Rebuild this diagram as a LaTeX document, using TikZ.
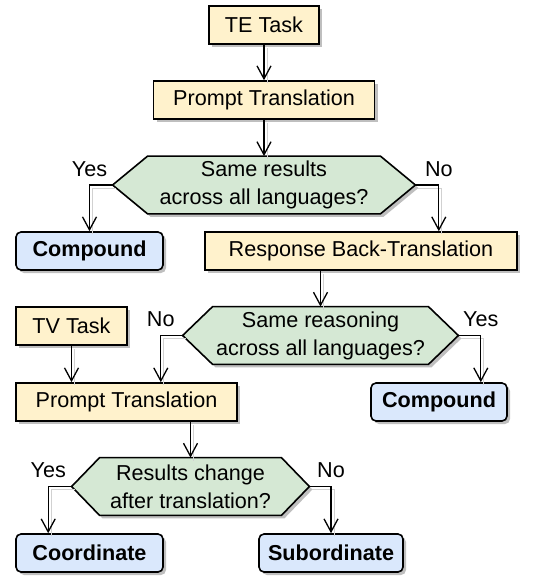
\documentclass[tikz,border=0pt]{standalone}
\usepackage{fontspec}
\setmainfont{Liberation Sans}
\usetikzlibrary{positioning,calc,shadows,arrows.meta,backgrounds}

\definecolor{stepfill}{HTML}{FFF2CC}
\definecolor{askfill}{HTML}{D5E8D4}
\definecolor{endfill}{HTML}{DAE8FC}

\tikzset{
  shade box/.style={drop shadow={shadow xshift=1.5pt,shadow yshift=-1.5pt,fill=black!25,opacity=1}},
  stepbox/.style={draw,line width=0.8pt,fill=stepfill,shade box,minimum height=19pt,inner sep=0pt},
  endbox/.style={stepbox,fill=endfill,rounded corners=2.5pt,font=\fontsize{10.8pt}{14pt}\selectfont\bfseries},
  askbox/.style={align=center,inner sep=0pt,minimum height=28.5pt},
  yesno/.style={pos=0.5,above,inner sep=4pt,text depth=0pt},
  arr/.style={line width=0.65pt,-{Straight Barb[length=6.5pt,width=7pt]},
    preaction={-,draw=black!18,transform canvas={shift={(1.5pt,-1.5pt)}}}},
}

\newcommand\hexpath[2]{(#1.west) -- ($(#1.north west)+(#2,0)$) -- ($(#1.north east)+(-#2,0)$)
  -- (#1.east) -- ($(#1.south east)+(-#2,0)$) -- ($(#1.south west)+(#2,0)$) -- cycle}

\begin{document}
\begin{tikzpicture}[x=0.5pt,y=-0.5pt,font=\fontsize{10.8pt}{14pt}\selectfont]
  \useasboundingbox (0,0) rectangle (537,577);
  \node[stepbox,minimum width=55pt] at (264,25) (te) {TE Task};
  \node[stepbox,minimum width=110.5pt] at (264,100) (pt1) {Prompt Translation};
  \node[askbox,minimum width=151pt] at (264,185) (d1) {Same results\\across all languages?};
  \node[endbox,minimum width=73.5pt] at (89.5,251) (cmp1) {Compound};
  \node[stepbox,minimum width=156pt] at (361,251) (rbt) {Response Back-Translation};
  \node[askbox,minimum width=137.5pt] at (320.5,335.5) (d2) {Same reasoning\\across all languages?};
  \node[stepbox,minimum width=55.5pt] at (71.5,326) (tv) {TV Task};
  \node[stepbox,minimum width=110.5pt] at (126.5,402) (pt2) {Prompt Translation};
  \node[endbox,minimum width=68pt] at (439,402) (cmp2) {Compound};
  \node[askbox,minimum width=118.5pt] at (190.5,486.5) (d3) {Results change\\after translation?};
  \node[endbox,minimum width=73.5pt] at (89.5,553) (coord) {Coordinate};
  \node[endbox,minimum width=72pt] at (331,553) (sub) {Subordinate};

  \begin{scope}[on background layer]
    \foreach \d/\c in {d1/35,d2/30,d3/28}{
      \fill[black!25,transform canvas={shift={(1.5pt,-1.5pt)}}] \hexpath{\d}{\c};
      \draw[line width=0.8pt,fill=askfill] \hexpath{\d}{\c};
    }
  \end{scope}

  \draw[arr] (te) -- (pt1);
  \draw[arr] (pt1) -- (d1);
  \draw[arr] (d1.west) -| node[yesno] {Yes} (cmp1);
  \draw[arr] (d1.east) -| node[yesno] {No} ($(rbt.north east)+(-79,0)$);
  \draw[arr] (rbt.south -| d2.north) -- (d2.north);
  \draw[arr] (d2.west) -| node[yesno] {No} ($(pt2.north east)+(-77,0)$);
  \draw[arr] (d2.east) -| node[yesno] {Yes} ($(cmp2.north east)+(-27,0)$);
  \draw[arr] (tv.south) -- (tv.south |- pt2.north);
  \draw[arr] (pt2.south -| d3.north) -- (d3.north);
  \draw[arr] (d3.west) -| node[yesno] {Yes} ($(coord.north west)+(33,0)$);
  \draw[arr] (d3.east) -| node[yesno] {No} (sub);
\end{tikzpicture}
\end{document}
